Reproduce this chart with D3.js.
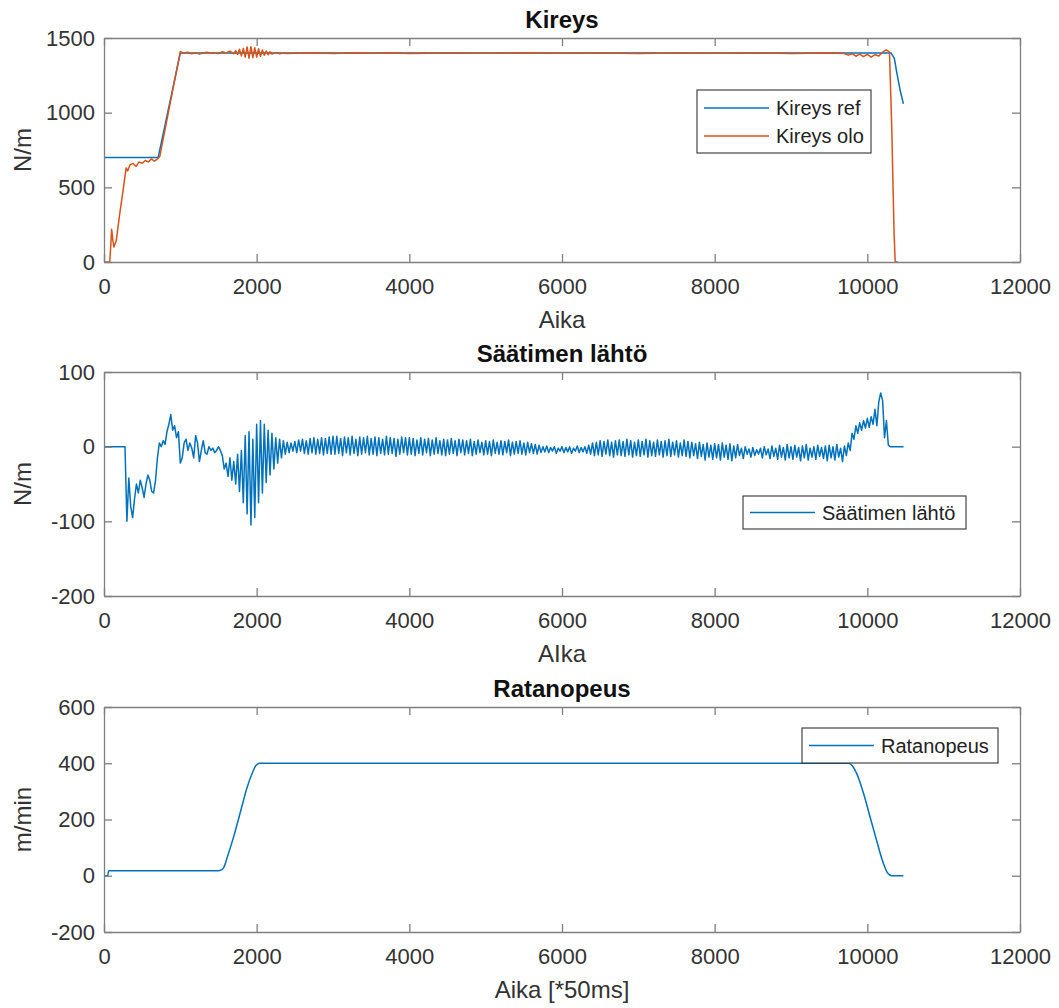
<!DOCTYPE html>
<html>
<head>
<meta charset="utf-8">
<script src="https://cdn.jsdelivr.net/npm/d3@7"></script>
<style>
  body { margin: 0; background: #fff; }
  text { font-family: "Liberation Sans", Arial, sans-serif; }
</style>
</head>
<body>
<div id="chart"></div>
<script>
// --- data ---
const xTicks = [0, 2000, 4000, 6000, 8000, 10000, 12000];

// Kireys
const kireysYTicks = [0, 500, 1000, 1500];
const refX = [0, 710, 1000, 10310, 10354, 10385, 10430, 10472];
const refY = [700, 700, 1400, 1400, 1364, 1270, 1150, 1060];
const oloX = [0, 75, 90, 100, 115, 130, 160, 200, 250, 290,
  310, 340, 380, 420, 460, 500, 540, 580, 620, 660,
  700, 730, 1000, 1030, 1100, 1150, 1200, 1250, 1300, 1350,
  1400, 1450, 1500, 1550, 1600, 1650, 1700, 1725, 1750, 1775,
  1800, 1825, 1850, 1875, 1900, 1925, 1950, 1975, 2000, 2025,
  2050, 2075, 2100, 2125, 2150, 2175, 2200, 2250, 2300, 2350,
  2400, 2500, 2750, 3000, 3250, 3500, 3750, 4000, 4500, 5000,
  5500, 6000, 6500, 7000, 7500, 8000, 8500, 9000, 9500, 9700,
  9750, 9800, 9850, 9900, 9950, 10000, 10050, 10100, 10150, 10200,
  10250, 10290, 10320, 10350, 10365, 10400];
const oloY = [0, 0, 120, 220, 150, 100, 140, 300, 480, 630,
  610, 650, 660, 640, 670, 660, 680, 670, 690, 675,
  690, 705, 1410, 1400, 1405, 1395, 1402, 1392, 1400, 1405,
  1398, 1402, 1395, 1408, 1400, 1412, 1395, 1415, 1390, 1425,
  1380, 1430, 1372, 1440, 1365, 1442, 1368, 1435, 1372, 1428,
  1378, 1420, 1385, 1412, 1388, 1408, 1392, 1402, 1395, 1400,
  1396, 1398, 1401, 1397, 1400, 1398, 1402, 1397, 1400, 1398,
  1401, 1398, 1400, 1397, 1400, 1398, 1400, 1397, 1400, 1396,
  1385, 1395, 1378, 1392, 1375, 1390, 1372, 1388, 1380, 1405,
  1420, 1405, 900, 200, 0, 0];

// Säätimen lähtö, one sample every 25 time units starting at 0
const saatinStep = 25;
const saatinY = [
  0, 0, 0, 0, 0, 0, 0, 0, 0, 0, 0, 0,
  -100, -42, -80, -95, -70, -50, -62, -45, -55, -68, -50, -38, -45, -60, -62, -45, -15, 5, 0, 8, 3, 20, 30, 43, 22, 28, 12, 20,
  -22, -15, 5, 10, -5, 5, -2, -15, 15, 5, -20, -5, 8, -8, -10, 0, -5, -2, -8, -5,
  0, -5, -12, -30, -22, -40, -15, -45, -20, -50, -10, -60, -5, -75, 15, -90, 20, -105, 10, -95,
  30, -75, 35, -62, 30, -48, 22, -38, 18, -30, 12, -22, 10, -15, 8, -10, 6, -8, 5, -6,
  7, -8, 9, -6, 10, -9, 8, -10, 11, -8, 12, -10, 10, -9, 12, -11, 11, -9, 13, -10,
  14, -10, 14, -9, 11, -12, 13, -8, 12, -11, 14, -9, 10, -12, 13, -10, 12, -8, 14, -11,
  11, -10, 13, -12, 12, -9, 10, -11, 14, -10, 12, -9, 11, -13, 10, -10, 13, -8, 12, -11,
  12, -10, 11, -12, 9, -9, 12, -11, 10, -8, 11, -12, 9, -10, 12, -9, 8, -11, 10, -12,
  9, -10, 11, -9, 8, -12, 10, -8, 9, -11, 8, -9, 10, -12, 7, -10, 9, -8, 6, -11,
  8, -10, 7, -12, 9, -9, 6, -10, 8, -11, 7, -8, 9, -12, 6, -10, 7, -9, 8, -10,
  5, -11, 6, -8, 4, -9, 3, -10, 2, -8, 0, -7, 1, -8, -1, -6, 0, -9, -2, -6,
  0, -8, -1, -7, 0, -9, -2, -6, 1, -8, -1, -7, 0, -9, 2, -10, 5, -12, 6, -11,
  8, -13, 7, -10, 9, -12, 6, -14, 8, -11, 9, -12, 7, -13, 10, -11, 8, -14, 6, -12,
  9, -13, 7, -11, 10, -14, 8, -12, 6, -13, 9, -11, 7, -14, 8, -12, 10, -13, 6, -11,
  8, -14, 5, -12, 9, -13, 7, -15, 6, -12, 4, -16, 6, -13, 3, -18, 5, -14, 2, -17,
  4, -15, 3, -18, 5, -14, 2, -17, 4, -19, 1, -15, 3, -12, -2, -16, 0, -10, -3, -14,
  -1, -12, -4, -10, -2, -15, 0, -11, -3, -16, 1, -13, -2, -17, 2, -14, -1, -18, 3, -15,
  0, -17, 2, -14, -1, -19, 1, -15, 3, -18, -2, -14, 0, -17, 2, -13, -1, -16, 1, -19,
  2, -15, 0, -18, 3, -14, -2, -20, 1, -12, 5, -5, 18, 10, 28, 18, 32, 22, 35, 25,
  38, 26, 40, 30, 50, 28, 60, 72, 62, 12, 35, 2, 0, 0, 0, 0, 0, 0, 0, 0
];
const saatinYTicks = [-200, -100, 0, 100];

// Ratanopeus
const ratX = [0, 50, 60, 1500, 1530, 1570, 1620, 1700, 1800, 1870, 1950, 1990, 2040,
  9760, 9800, 9860, 9950, 10035, 10120, 10210, 10260, 10320, 10472];
const ratY = [0, 0, 18, 18, 20, 30, 70, 140, 240, 310, 370, 392, 400,
  400, 392, 364, 293, 210, 127, 44, 12, 0, 0];
const ratYTicks = [-200, 0, 200, 400, 600];

const blue = "#0072BD";
const orange = "#D95319";

// --- layout ---
const width = 1059, height = 1008;
const left = 104, right = 1020;
const plain = d => String(d);   // MATLAB style: no thousands separator, ascii minus

const svg = d3.select("#chart").append("svg")
  .attr("width", width)
  .attr("height", height);

const x = d3.scaleLinear().domain([0, 12000]).range([left, right]);

function panel(opts) {
  const y = d3.scaleLinear().domain(opts.yDomain).range([opts.bottom, opts.top]);
  const g = svg.append("g");

  const clipId = "clip" + opts.id;
  svg.append("clipPath").attr("id", clipId)
    .append("rect")
    .attr("x", left).attr("y", opts.top)
    .attr("width", right - left).attr("height", opts.bottom - opts.top);

  const lines = g.append("g").attr("clip-path", `url(#${clipId})`);
  opts.series.forEach(s => {
    const pts = s.xs.map((v, i) => [v, s.ys[i]]);
    lines.append("path")
      .datum(pts)
      .attr("fill", "none")
      .attr("stroke", s.color)
      .attr("stroke-width", 1.5)
      .attr("stroke-linejoin", "round")
      .attr("d", d3.line().x(d => x(d[0])).y(d => y(d[1])).curve(s.curve || d3.curveLinear));
  });

  // axes, ticks pointing inward (MATLAB style)
  const bottomAxis = g.append("g")
    .attr("transform", `translate(0,${opts.bottom})`)
    .call(d3.axisBottom(x).tickValues(xTicks).tickFormat(plain)
      .tickSizeInner(-8).tickSizeOuter(0).tickPadding(16));
  bottomAxis.selectAll("text").style("font-size", "22px");

  g.append("g")
    .attr("transform", `translate(0,${opts.top})`)
    .call(d3.axisTop(x).tickValues(xTicks).tickSizeInner(-8).tickSizeOuter(0).tickFormat(""));

  const leftAxis = g.append("g")
    .attr("transform", `translate(${left},0)`)
    .call(d3.axisLeft(y).tickValues(opts.yTicks).tickFormat(plain)
      .tickSizeInner(-8).tickSizeOuter(0).tickPadding(9));
  leftAxis.selectAll("text").style("font-size", "22px");

  g.append("g")
    .attr("transform", `translate(${right},0)`)
    .call(d3.axisRight(y).tickValues(opts.yTicks).tickSizeInner(-8).tickSizeOuter(0).tickFormat(""));

  g.selectAll(".domain, .tick line").attr("stroke", "#7f7f7f").attr("stroke-width", 1.3);
  g.selectAll(".tick text").attr("fill", "#333");

  // title and labels
  g.append("text")
    .attr("x", (left + right) / 2)
    .attr("y", opts.top - 10)
    .attr("text-anchor", "middle")
    .style("font-size", "24px")
    .style("font-weight", "bold")
    .attr("fill", "#111")
    .text(opts.title);

  g.append("text")
    .attr("x", (left + right) / 2)
    .attr("y", opts.bottom + 66)
    .attr("text-anchor", "middle")
    .style("font-size", "24px")
    .attr("fill", "#333")
    .text(opts.xLabel);

  g.append("text")
    .attr("transform", `translate(22,${(opts.top + opts.bottom) / 2}) rotate(-90)`)
    .attr("text-anchor", "middle")
    .attr("dominant-baseline", "central")
    .style("font-size", "24px")
    .attr("fill", "#333")
    .text(opts.yLabel);

  // legend
  const lg = opts.legend;
  const legend = g.append("g").attr("transform", `translate(${lg.x},${lg.y})`);
  legend.append("rect")
    .attr("width", lg.w).attr("height", lg.h)
    .attr("fill", "#fff")
    .attr("stroke", "#333")
    .attr("stroke-width", 1.1);
  opts.series.forEach((s, i) => {
    const cy = lg.firstRow + i * 28;
    legend.append("line")
      .attr("x1", 7).attr("x2", 72)
      .attr("y1", cy).attr("y2", cy)
      .attr("stroke", s.color).attr("stroke-width", 1.5);
    legend.append("text")
      .attr("x", 79).attr("y", cy)
      .attr("dominant-baseline", "central")
      .style("font-size", "20px")
      .attr("fill", "#222")
      .text(s.name);
  });
}

panel({
  id: 1, top: 38, bottom: 262, yDomain: [0, 1500], yTicks: kireysYTicks,
  title: "Kireys", xLabel: "Aika", yLabel: "N/m",
  series: [
    { name: "Kireys ref", xs: refX, ys: refY, color: blue },
    { name: "Kireys olo", xs: oloX, ys: oloY, color: orange }
  ],
  legend: { x: 697, y: 90, w: 174, h: 63, firstRow: 18 }
});

panel({
  id: 2, top: 372, bottom: 596, yDomain: [-200, 100], yTicks: saatinYTicks,
  title: "Säätimen lähtö", xLabel: "AIka", yLabel: "N/m",
  series: [
    { name: "Säätimen lähtö", xs: saatinY.map((_, i) => i * saatinStep), ys: saatinY, color: blue }
  ],
  legend: { x: 743, y: 496, w: 223, h: 33, firstRow: 16.5 }
});

panel({
  id: 3, top: 707, bottom: 932, yDomain: [-200, 600], yTicks: ratYTicks,
  title: "Ratanopeus", xLabel: "Aika [*50ms]", yLabel: "m/min",
  series: [
    { name: "Ratanopeus", xs: ratX, ys: ratY, color: blue, curve: d3.curveMonotoneX }
  ],
  legend: { x: 802, y: 728, w: 196, h: 35, firstRow: 17.5 }
});
</script>
</body>
</html>
